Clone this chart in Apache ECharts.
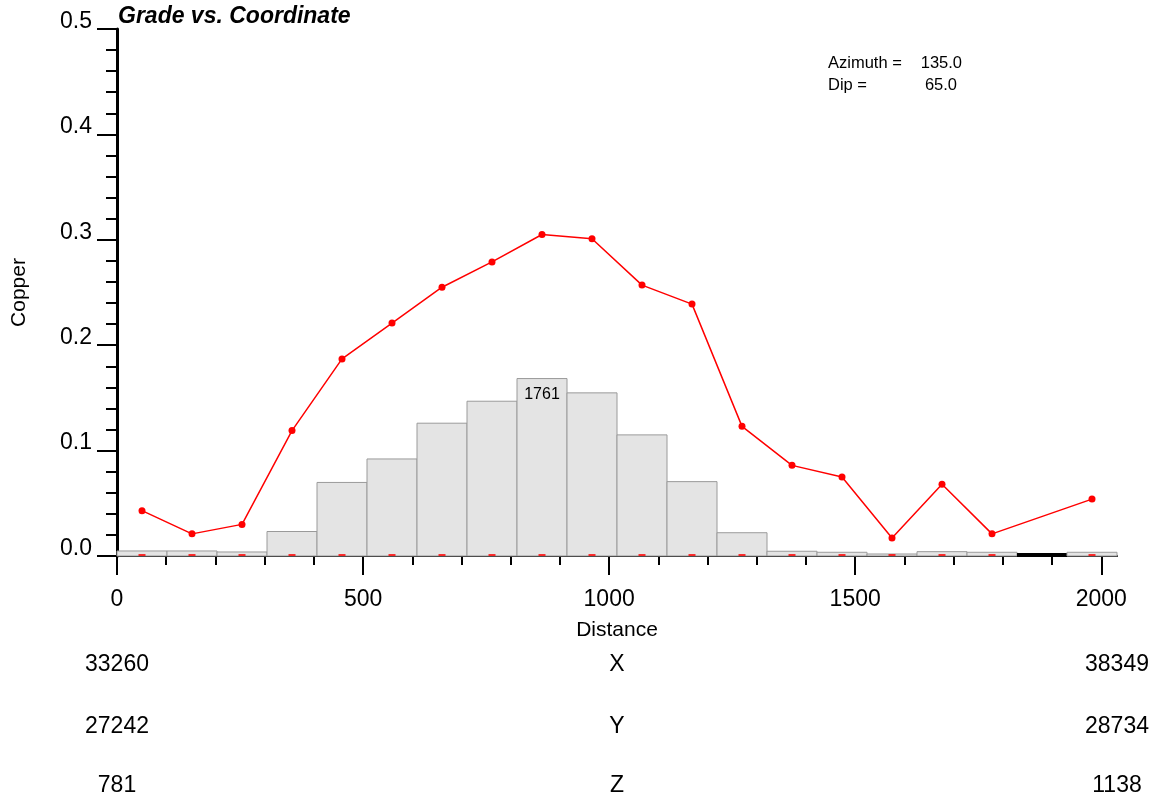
<!DOCTYPE html>
<html>
<head>
<meta charset="utf-8">
<script src="https://cdn.jsdelivr.net/npm/echarts@6/dist/echarts.min.js"></script>
<style>
html,body{margin:0;padding:0;background:#fff;}
#chart{width:1158px;height:803px;}
</style>
</head>
<body>
<div id="chart"></div>
<script>
// ---- data ----
const distMax = 2032;
const binCount = 20;
const counts = [50, 50, 40, 243, 730, 963, 1318, 1536, 1761, 1619, 1202, 738, 231, 47, 37, 20, 43, 37, 0, 37];
const grades = [0.043, 0.021, 0.030, 0.119, 0.187, 0.221, 0.255, 0.279, 0.305, 0.301, 0.257, 0.239, 0.123, 0.086, 0.075, 0.017, 0.068, 0.021, null, 0.054];
const xMajorTicks = [0, 500, 1000, 1500, 2000];
const xMinorTicks = [0, 100, 200, 300, 400, 500, 600, 700, 800, 900, 1000, 1100, 1200, 1300, 1400, 1500, 1600, 1700, 1800, 1900, 2000];
const coordRows = [
  {name: 'X', start: '33260', end: '38349'},
  {name: 'Y', start: '27242', end: '28734'},
  {name: 'Z', start: '781', end: '1138'}
];
const azimuth = '135.0';
const dip = '65.0';
const title = 'Grade vs. Coordinate';

// ---- build ----
const binW = distMax / binCount;
const maxCount = Math.max(...counts);
const histData = counts.map((c, i) => [i * binW, (i + 1) * binW, c]);
const gradeData = grades.map((g, i) => [(i + 0.5) * binW, g]);
const zeroMarks = grades.map((g, i) => g === null ? null : [(i + 0.5) * binW, 0]).filter(d => d);

const FONT = '"Liberation Sans", Arial, Helvetica, sans-serif';
const chart = echarts.init(document.getElementById('chart'), null, {renderer: 'canvas'});

const gridL = 117, gridR = 41, gridT = 29, gridB = 247;
const graphics = [];
const rowY = [665, 727, 786];
coordRows.forEach((r, i) => {
  graphics.push({type: 'text', x: 117, y: rowY[i], style: {text: r.start, fontSize: 23, fontFamily: FONT, fill: '#000', align: 'center', verticalAlign: 'middle'}});
  graphics.push({type: 'text', x: 617, y: rowY[i], style: {text: r.name, fontSize: 23, fontFamily: FONT, fill: '#000', align: 'center', verticalAlign: 'middle'}});
  graphics.push({type: 'text', x: 1117, y: rowY[i], style: {text: r.end, fontSize: 23, fontFamily: FONT, fill: '#000', align: 'center', verticalAlign: 'middle'}});
});
graphics.push({type: 'text', x: 828, y: 63, style: {text: 'Azimuth =', fontSize: 16.5, fontFamily: FONT, fill: '#000', align: 'left', verticalAlign: 'middle'}});
graphics.push({type: 'text', x: 962, y: 63, style: {text: azimuth, fontSize: 16.5, fontFamily: FONT, fill: '#000', align: 'right', verticalAlign: 'middle'}});
graphics.push({type: 'text', x: 828, y: 85, style: {text: 'Dip =', fontSize: 16.5, fontFamily: FONT, fill: '#000', align: 'left', verticalAlign: 'middle'}});
graphics.push({type: 'text', x: 957, y: 85, style: {text: dip, fontSize: 16.5, fontFamily: FONT, fill: '#000', align: 'right', verticalAlign: 'middle'}});

const option = {
  backgroundColor: '#fff',
  animation: false,
  title: {
    text: title, left: 113, top: 0,
    textStyle: {fontFamily: FONT, fontSize: 23, fontWeight: 'bold', fontStyle: 'italic', color: '#000'}
  },
  grid: {left: gridL, right: gridR, top: gridT, bottom: gridB, containLabel: false, outerBoundsMode: 'none'},
  xAxis: [
    {
      type: 'value', min: 0, max: distMax, interval: 100,
      name: 'Distance', nameLocation: 'middle', nameGap: 64,
      nameTextStyle: {fontFamily: FONT, fontSize: 21, color: '#000'},
      axisLine: {show: true, onZero: false, lineStyle: {color: '#000', width: 2}},
      axisTick: {show: true, customValues: xMinorTicks, length: 9, lineStyle: {color: '#000', width: 2}},
      axisLabel: {show: true, customValues: xMajorTicks, margin: 32, fontFamily: FONT, fontSize: 23, color: '#000',
        formatter: v => String(v)},
      splitLine: {show: false}
    },
    {
      type: 'value', min: 0, max: distMax, position: 'bottom',
      axisLine: {show: false},
      axisTick: {show: true, customValues: xMajorTicks, length: 19, lineStyle: {color: '#000', width: 2}},
      axisLabel: {show: false},
      splitLine: {show: false}
    }
  ],
  yAxis: [
    {
      type: 'value', min: 0, max: 0.5, interval: 0.1,
      name: 'Copper', nameLocation: 'middle', nameGap: 87, nameRotate: 90,
      nameTextStyle: {fontFamily: FONT, fontSize: 21, color: '#000'},
      axisLine: {show: true, onZero: false, lineStyle: {color: '#000', width: 3}},
      axisTick: {show: true, length: 20, lineStyle: {color: '#000', width: 2}},
      minorTick: {show: true, splitNumber: 5, length: 11, lineStyle: {color: '#000', width: 2}},
      axisLabel: {margin: 25, fontFamily: FONT, fontSize: 23, color: '#000', verticalAlign: 'bottom', lineHeight: 15,
        formatter: v => v.toFixed(1)},
      splitLine: {show: false}
    },
    {
      type: 'value', min: 0, max: maxCount * 2.97, show: false
    }
  ],
  series: [
    {
      type: 'custom', xAxisIndex: 0, yAxisIndex: 1, z: 1,
      data: histData,
      renderItem: function (params, api) {
        const x0 = api.value(0), x1 = api.value(1), c = api.value(2);
        const p0 = api.coord([x0, 0]);
        const p1 = api.coord([x1, c]);
        const children = [];
        if (c === 0) {
          children.push({type: 'rect', shape: {x: p0[0], y: p0[1] - 3, width: p1[0] - p0[0], height: 3}, style: {fill: '#000'}});
        } else {
          children.push({type: 'rect', shape: {x: p0[0], y: p1[1], width: p1[0] - p0[0], height: p0[1] - p1[1]},
            style: {fill: '#e4e4e4', stroke: '#9a9a9a', lineWidth: 1}});
        }
        if (c === maxCount) {
          children.push({type: 'text', x: (p0[0] + p1[0]) / 2, y: p1[1] + 16,
            style: {text: String(c), fontFamily: FONT, fontSize: 16, fill: '#000', align: 'center', verticalAlign: 'middle'}});
        }
        return {type: 'group', children: children};
      }
    },
    {
      type: 'scatter', xAxisIndex: 0, yAxisIndex: 0, z: 3,
      data: zeroMarks, symbol: 'rect', symbolSize: [7, 2], symbolOffset: [0, -1],
      itemStyle: {color: '#ff0000'}, silent: true
    },
    {
      type: 'line', xAxisIndex: 0, yAxisIndex: 0, z: 4,
      data: gradeData, connectNulls: true,
      symbol: 'circle', symbolSize: 7, showAllSymbol: true,
      lineStyle: {color: '#ff0000', width: 1.5},
      itemStyle: {color: '#ff0000'}
    }
  ],
  graphic: graphics
};
chart.setOption(option);
</script>
</body>
</html>
